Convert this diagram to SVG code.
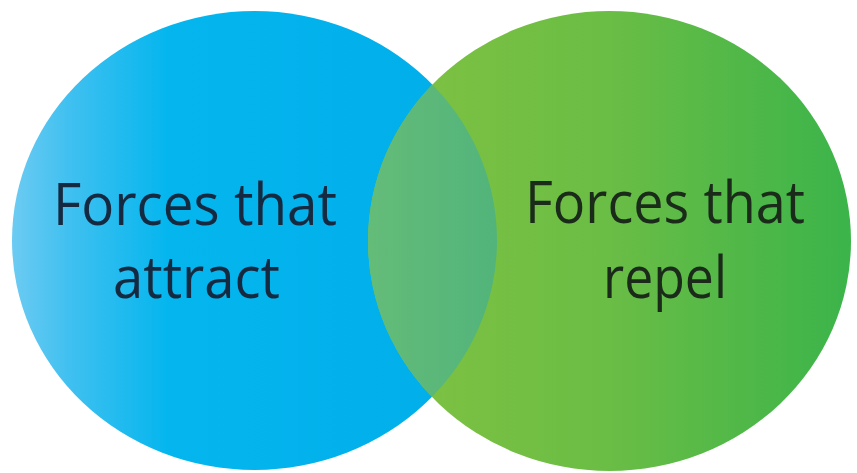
<svg xmlns="http://www.w3.org/2000/svg" width="857" height="473" viewBox="0 0 857 473">
  <defs>
    <linearGradient id="gBlue" gradientUnits="userSpaceOnUse" x1="12" y1="0" x2="497" y2="0">
      <stop offset="0" stop-color="#6ccbf2"/>
      <stop offset="0.12" stop-color="#3fc0f0"/>
      <stop offset="0.32" stop-color="#05b6ee"/>
      <stop offset="1" stop-color="#00ade9"/>
    </linearGradient>
    <linearGradient id="gGreen" gradientUnits="userSpaceOnUse" x1="368" y1="0" x2="851" y2="0">
      <stop offset="0" stop-color="#82c241"/>
      <stop offset="0.5" stop-color="#6abd45"/>
      <stop offset="1" stop-color="#3bb44a"/>
    </linearGradient>
    <linearGradient id="gMix" gradientUnits="userSpaceOnUse" x1="368" y1="0" x2="497" y2="0">
      <stop offset="0" stop-color="#64bc78"/>
      <stop offset="1" stop-color="#52b47b"/>
    </linearGradient>
    <clipPath id="clipLeft">
      <ellipse cx="254.5" cy="240.5" rx="242.5" ry="229.5"/>
    </clipPath>
    <style>
      .lbl { font-family: "Open Sans", "Noto Sans", "Liberation Sans", sans-serif; font-size: 58px; text-anchor: middle; }
      .dkBlue { fill: #152a40; }
      .dkGreen { fill: #1a2b1a; }
    </style>
  </defs>
  <rect width="857" height="473" fill="#ffffff"/>
  <g id="attract">
    <ellipse cx="254.5" cy="240.5" rx="242.5" ry="229.5" fill="url(#gBlue)"/>
  </g>
  <g id="repel">
    <ellipse cx="609.5" cy="241" rx="241.5" ry="230" fill="url(#gGreen)"/>
  </g>
  <g id="overlap">
    <ellipse cx="609.5" cy="241" rx="241.5" ry="230" fill="url(#gMix)" clip-path="url(#clipLeft)"/>
  </g>
  <g id="labels">
    <text class="lbl dkBlue" x="195" y="225" textLength="284" lengthAdjust="spacingAndGlyphs">Forces that</text>
    <text class="lbl dkBlue" x="196.5" y="298" textLength="167" lengthAdjust="spacingAndGlyphs">attract</text>
    <text class="lbl dkGreen" x="665" y="223" textLength="280" lengthAdjust="spacingAndGlyphs">Forces that</text>
    <text class="lbl dkGreen" x="665" y="298" textLength="124" lengthAdjust="spacingAndGlyphs">repel</text>
  </g>
</svg>
